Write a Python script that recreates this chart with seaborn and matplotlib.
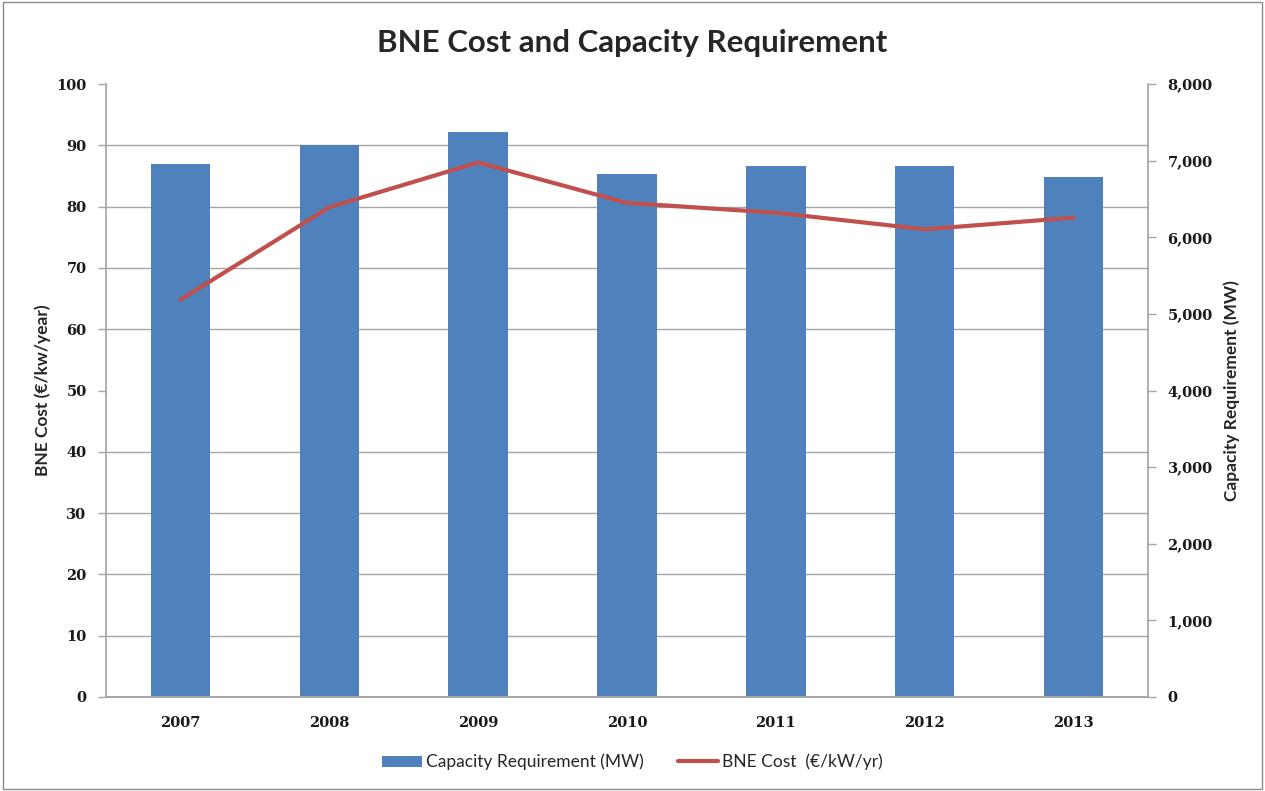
import numpy as np
import pandas as pd
import matplotlib
matplotlib.use("Agg")
import matplotlib.pyplot as plt
import seaborn as sns
from matplotlib.patches import Patch, Rectangle
from matplotlib.lines import Line2D
from matplotlib.ticker import FuncFormatter, MultipleLocator, FixedLocator

years = ["2007", "2008", "2009", "2010", "2011", "2012", "2013"]
capacity_mw = [6960, 7200, 7370, 6820, 6930, 6930, 6780]
bne_cost = [64.8, 79.9, 87.2, 80.6, 79.0, 76.3, 78.2]

title = "BNE Cost and Capacity Requirement"
left_label = "BNE Cost (€/kw/year)"
right_label = "Capacity Requirement (MW)"
bar_legend = "Capacity Requirement (MW)"
line_legend = "BNE Cost  (€/kW/yr)"

BLUE = "#4F81BD"
RED = "#C0504D"
GRID = "#A6A6A6"

sns.set_theme(style="white")
plt.rcParams["font.family"] = ["Lato", "DejaVu Sans"]

df = pd.DataFrame({"year": years, "capacity": capacity_mw, "cost": bne_cost})

fig = plt.figure(figsize=(12.65, 7.91), dpi=100)
ax = fig.add_axes([106 / 1265, 1 - 697 / 791, (1148 - 106) / 1265, (697 - 84) / 791])
ax2 = ax.twinx()

# bars on right axis
sns.barplot(data=df, x="year", y="capacity", ax=ax2, color=BLUE, width=0.4,
            saturation=1, edgecolor="none", zorder=2)
ax2.set_ylim(0, 8000)
ax2.yaxis.set_major_locator(MultipleLocator(1000))
ax2.yaxis.set_major_formatter(FuncFormatter(lambda v, p: f"{int(v):,}"))
# horizontal gridlines matching the left axis (every 10 units = 800 MW)
ax2.yaxis.set_minor_locator(MultipleLocator(800))
ax2.grid(False, which="major")
ax2.grid(True, axis="y", which="minor", color=GRID, linewidth=1.0, zorder=0)
ax2.tick_params(axis="y", which="minor", length=0)
ax2.set_axisbelow(True)

# line on left axis, drawn on top
ax.set_zorder(ax2.get_zorder() + 1)
ax.patch.set_visible(False)
ax.grid(False)
sns.lineplot(x=np.arange(len(years)), y=df["cost"], ax=ax, color=RED, linewidth=3)
ax.set_ylim(0, 100)
ax.yaxis.set_major_locator(MultipleLocator(10))
ax.set_xlim(-0.5, len(years) - 0.5)
ax2.set_xlim(-0.5, len(years) - 0.5)

# x ticks: labels at centres, tick marks at category boundaries
ax.set_xticks(np.arange(len(years)))
ax.set_xticklabels(years)
ax.xaxis.set_minor_locator(FixedLocator(np.arange(-0.5, len(years), 1.0)))
ax.tick_params(axis="x", which="major", length=0, pad=14)
ax.tick_params(axis="x", which="minor", length=6, width=1, color=GRID, direction="out")
ax2.tick_params(axis="x", length=0, labelbottom=False)

ax.tick_params(axis="y", which="major", length=6, width=1, color=GRID, direction="out", pad=8)
ax2.tick_params(axis="y", which="major", length=6, width=1, color=GRID, direction="out", pad=8)

for lab in ax.get_yticklabels() + ax.get_xticklabels() + ax2.get_yticklabels():
    lab.set_fontfamily("DejaVu Serif")
    lab.set_fontweight("bold")
    lab.set_fontsize(10.5)
    lab.set_color("#1a1a1a")

for a in (ax, ax2):
    a.set_xlabel("")
    a.spines["top"].set_visible(False)
    a.spines["left"].set_color(GRID)
    a.spines["right"].set_color(GRID)
    a.spines["bottom"].set_color(GRID)
ax2.spines["left"].set_visible(False)
ax.spines["right"].set_visible(False)

ax.set_ylabel(left_label, fontsize=12.5, fontweight="bold", labelpad=4)
ax2.set_ylabel(right_label, fontsize=12.5, fontweight="bold", labelpad=8)

fig.text(0.5, 1 - 43 / 791, title, ha="center", va="center", fontsize=22.5, fontweight="bold")

handles = [Patch(facecolor=BLUE, edgecolor="none"),
           Line2D([0], [0], color=RED, linewidth=3)]
fig.legend(handles, [bar_legend, line_legend], loc="center", bbox_to_anchor=(0.5, 1 - 762 / 791),
           ncol=2, frameon=False, fontsize=12.5, handlelength=2.3, handleheight=0.6,
           columnspacing=2.0, handletextpad=0.2)

fig.add_artist(Rectangle((0.002, 0.003), 0.996, 0.994, transform=fig.transFigure,
                         fill=False, edgecolor="#8C8C8C", linewidth=1))

fig.savefig("out.png", dpi=100, facecolor="white")
